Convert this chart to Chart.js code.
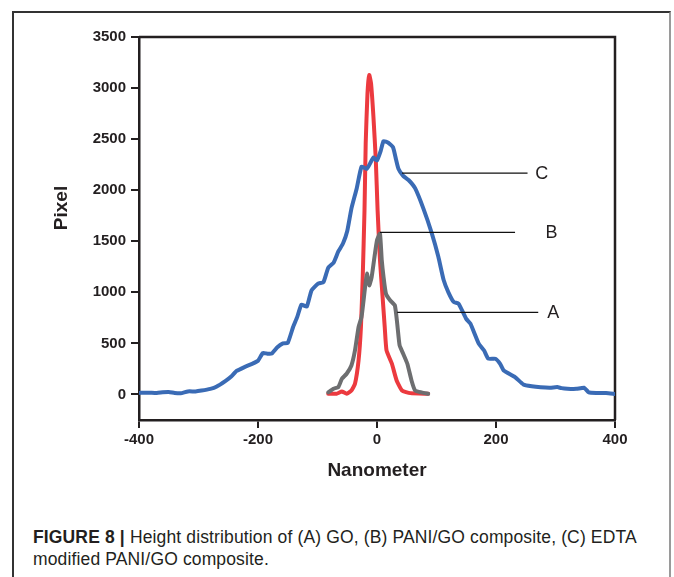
<!DOCTYPE html>
<html><head><meta charset="utf-8">
<script src="https://cdn.jsdelivr.net/npm/chart.js@4.4.0/dist/chart.umd.min.js"></script>
<style>
html,body{margin:0;padding:0;background:#fff;width:674px;height:577px;overflow:hidden;}
#frame{position:absolute;left:12px;top:11px;width:655px;height:600px;border-left:2px solid #333;border-top:2px solid #333;border-right:2px solid #9a9a9a;}
#wrap{position:absolute;left:0;top:0;width:674px;height:500px;}
#caption{position:absolute;left:33px;top:526px;font-family:"Liberation Sans",Arial,sans-serif;font-size:17.5px;line-height:22px;letter-spacing:0.14px;color:#231f20;white-space:nowrap;}
</style></head>
<body>
<div id="frame"></div>
<div id="wrap"><canvas id="c" width="674" height="500"></canvas></div>
<div id="caption"><b>FIGURE 8 |</b> Height distribution of (A) GO, (B) PANI/GO composite, (C) EDTA<br>modified PANI/GO composite.</div>
<script>
// ---- data ----
const xTicks = [-400, -200, 0, 200, 400];
const yTicks = [0, 500, 1000, 1500, 2000, 2500, 3000, 3500];

// C: EDTA modified PANI/GO composite (blue)
const blueX = [-400,-385,-370,-360,-350,-340,-330,-318,-305,-295,-280,-270,-255,-245,-236,-222,-210,-200,-192,-185,-177,-168,-158,-150,-141,-134,-127,-118,-110,-99,-90,-82,-73,-65,-57,-50,-43,-34,-26,-17,-10,-6,0,6,11,19,27,32,36,44,53,64,78,92,103,112,120,129,137,150,157,171,180,187,199,207,213,232,246,260,275,291,303,310,320,335,348,356,370,385,400];
const blueY = [15,18,15,22,25,15,12,30,30,38,55,75,130,175,230,270,300,330,405,400,400,460,500,505,660,760,880,860,1020,1085,1100,1240,1290,1400,1480,1600,1820,2020,2230,2210,2280,2320,2290,2380,2480,2465,2420,2300,2210,2140,2100,2020,1820,1580,1350,1120,1000,905,890,740,693,497,430,350,350,300,235,170,98,80,70,66,72,62,56,55,66,20,15,14,5];

// grey series
const greyX = [-82,-73,-65,-59,-51,-43,-37,-31,-26,-20,-17,-13,-9,-5,0,5,8,11,15,22,30,34,38,44,51,58,64,75,86];
const greyY = [20,56,72,154,203,284,431,660,758,1052,1183,1069,1150,1314,1510,1575,1314,1150,987,922,872,693,480,399,301,137,39,20,7];

// red series
const redX = [-82,-68,-59,-51,-43,-37,-31,-27,-24,-21,-19,-16,-13,-10,-6,-2,1,5,9,13,16,25,33,42,56,86];
const redY = [7,7,29,7,39,105,333,660,1150,1804,2458,2948,3127,3046,2719,2294,1804,1314,987,660,431,301,137,39,13,7];

// leader annotations (in data units)
const leaderLabels = ['C', 'B', 'A'];
const leaderStartX = [42, 5, 34];
const leaderEndX = [253, 232, 271];
const leaderY = [2167, 1588, 804];
const leaderTextX = [266, 283, 286];

const toPts = (xs, ys) => xs.map((x, i) => ({x: x, y: ys[i]}));
const INK = '#231f20';
const FONT = '"Liberation Sans", Arial, sans-serif';

const framePlugin = {
  id: 'frameAndText',
  beforeDatasetsDraw(chart) {
    const {ctx, chartArea: a} = chart;
    ctx.save();
    ctx.strokeStyle = INK;
    ctx.lineWidth = 2.5;
    ctx.beginPath();
    ctx.moveTo(a.left, a.top); ctx.lineTo(a.right, a.top); ctx.lineTo(a.right, a.bottom);
    ctx.stroke();
    // y axis title
    ctx.translate(62, 208);
    ctx.rotate(-Math.PI / 2);
    ctx.font = 'bold 19px ' + FONT;
    ctx.fillStyle = INK;
    ctx.textAlign = 'center';
    ctx.textBaseline = 'middle';
    ctx.fillText('Pixel', 0, 0);
    ctx.restore();
  },
  afterDatasetsDraw(chart) {
    const {ctx} = chart;
    const xs = chart.scales.x, ys = chart.scales.y;
    ctx.save();
    ctx.strokeStyle = '#111';
    ctx.lineWidth = 1.2;
    ctx.fillStyle = INK;
    ctx.font = '18px ' + FONT;
    ctx.textAlign = 'left';
    ctx.textBaseline = 'middle';
    leaderLabels.forEach((lab, i) => {
      const y = ys.getPixelForValue(leaderY[i]);
      ctx.beginPath();
      ctx.moveTo(xs.getPixelForValue(leaderStartX[i]), y);
      ctx.lineTo(xs.getPixelForValue(leaderEndX[i]), y);
      ctx.stroke();
      ctx.fillText(lab, xs.getPixelForValue(leaderTextX[i]), y + 1);
    });
    ctx.restore();
  }
};

const lineDs = (data, color) => ({
  data: data, borderColor: color, backgroundColor: color, borderWidth: 4,
  pointRadius: 0, tension: 0.15, fill: false, borderCapStyle: 'round', borderJoinStyle: 'round'
});

new Chart(document.getElementById('c'), {
  type: 'line',
  data: {
    datasets: [
      lineDs(toPts(blueX, blueY), '#3a6bb5'),
      lineDs(toPts(greyX, greyY), '#6d6e70'),
      lineDs(toPts(redX, redY), '#ec3a3f')
    ]
  },
  plugins: [framePlugin],
  options: {
    responsive: false,
    animation: false,
    devicePixelRatio: 1,
    layout: {padding: {left: 0, right: 59, top: 37, bottom: 0}},
    plugins: {legend: {display: false}, tooltip: {enabled: false}},
    scales: {
      x: {
        type: 'linear', min: -400, max: 400,
        afterBuildTicks: s => { s.ticks = xTicks.map(v => ({value: v})); },
        afterFit: s => { s.height = 80; },
        grid: {drawOnChartArea: false, drawTicks: true, tickLength: 8, color: INK, lineWidth: 2},
        border: {display: true, color: INK, width: 2.5},
        ticks: {font: {family: FONT, size: 15, weight: 'bold'}, color: INK, padding: 3, maxRotation: 0, callback: v => String(v)},
        title: {display: true, text: 'Nanometer', color: INK, font: {family: FONT, size: 19, weight: 'bold'}, padding: {top: 0, bottom: 18}}
      },
      y: {
        type: 'linear', min: -250, max: 3500,
        afterBuildTicks: s => { s.ticks = yTicks.map(v => ({value: v})); },
        afterFit: s => { s.width = 139; },
        grid: {drawOnChartArea: false, drawTicks: true, tickLength: 8, color: INK, lineWidth: 2},
        border: {display: true, color: INK, width: 2.5},
        ticks: {font: {family: FONT, size: 15, weight: 'bold'}, color: INK, padding: 5, callback: v => String(v)}
      }
    }
  }
});
</script>
</body></html>
